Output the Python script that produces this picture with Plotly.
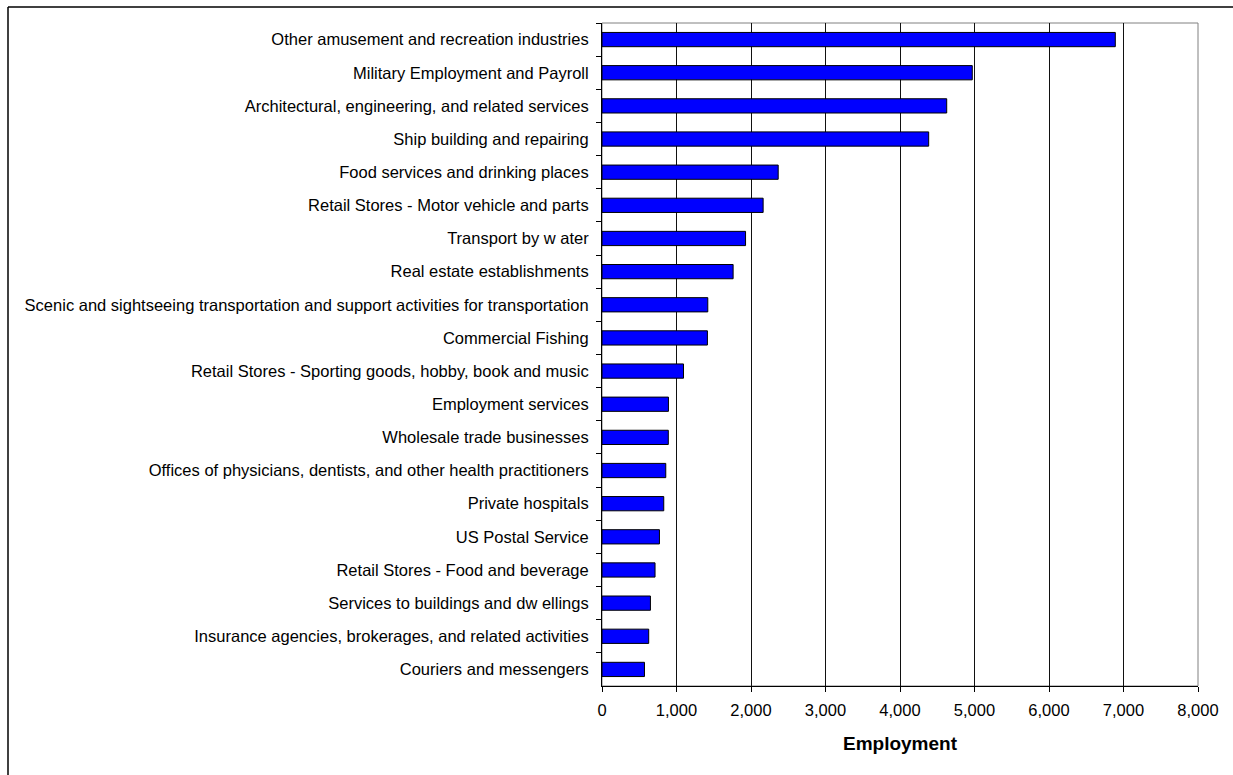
import plotly.graph_objects as go

categories = [
    "Other amusement and recreation industries",
    "Military Employment and Payroll",
    "Architectural, engineering, and related services",
    "Ship building and repairing",
    "Food services and drinking places",
    "Retail Stores - Motor vehicle and parts",
    "Transport by w ater",
    "Real estate establishments",
    "Scenic and sightseeing transportation and support activities for transportation",
    "Commercial Fishing",
    "Retail Stores - Sporting goods, hobby, book and music",
    "Employment services",
    "Wholesale trade businesses",
    "Offices of physicians, dentists, and other health practitioners",
    "Private hospitals",
    "US Postal Service",
    "Retail Stores - Food and beverage",
    "Services to buildings and dw ellings",
    "Insurance agencies, brokerages, and related activities",
    "Couriers and messengers",
]
employment = [6890, 4970, 4627, 4385, 2365, 2163, 1927, 1760, 1420, 1415,
              1094, 892, 890, 856, 829, 771, 712, 650, 627, 570]
x_ticks = [0, 1000, 2000, 3000, 4000, 5000, 6000, 7000, 8000]

W, H = 1233, 775
L, R, T, B = 602, 1198, 23, 686

fig = go.Figure(go.Bar(
    x=employment, y=categories, orientation="h",
    marker=dict(color="#0000FF", line=dict(color="#000000", width=1)),
    width=0.43,
))

pw, ph = R - L, B - T
fig.update_layout(
    width=W, height=H,
    margin=dict(l=L, r=W - R, t=T, b=H - B, pad=0),
    paper_bgcolor="white", plot_bgcolor="white",
    font=dict(family="Liberation Sans, Arial, sans-serif", size=16.5, color="black"),
    showlegend=False,
    xaxis=dict(
        range=[0, 8000], tickvals=x_ticks, tickformat=",",
        showgrid=True, gridcolor="#111111", gridwidth=1,
        showline=True, linecolor="black", linewidth=1,
        ticks="outside", ticklen=5, tickcolor="black",
        zeroline=False,
        title=dict(text="<b>Employment</b>", font=dict(size=19), standoff=18),
        tickfont=dict(size=16.5),
        ticklabelstandoff=4,
    ),
    yaxis=dict(
        autorange="reversed", type="category",
        showgrid=False,
        showline=True, linecolor="black", linewidth=1,
        ticks="outside", ticklen=5, tickcolor="black", tickson="boundaries",
        tickfont=dict(size=16.5),
        ticklabelstandoff=9,
    ),
    shapes=[
        dict(type="rect", xref="paper", yref="paper", x0=0, x1=1, y0=0, y1=1,
             line=dict(color="#808080", width=1), layer="below"),
        dict(type="line", xref="paper", yref="paper",
             x0=(8 - L) / pw, x1=(W + 10 - L) / pw,
             y0=1 + (T - 7) / ph, y1=1 + (T - 7) / ph,
             line=dict(color="black", width=1.5)),
        dict(type="line", xref="paper", yref="paper",
             x0=(8 - L) / pw, x1=(8 - L) / pw,
             y0=1 + (T - 7) / ph, y1=-(H + 10 - B) / ph,
             line=dict(color="black", width=1.5)),
    ],
)

fig.write_html("out.html")
